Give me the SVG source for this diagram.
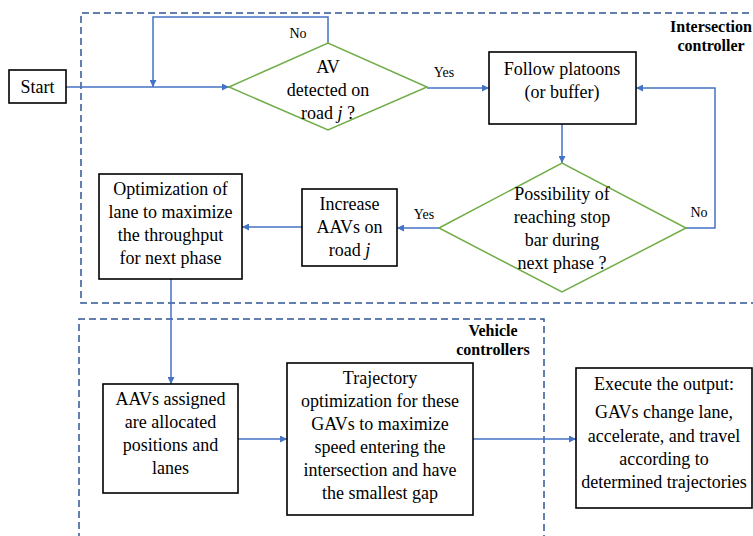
<svg xmlns="http://www.w3.org/2000/svg" width="753" height="536" viewBox="0 0 753 536" font-family="'Liberation Serif', 'Times New Roman', 'DejaVu Serif', serif">
<defs>
<marker id="ah" viewBox="0 0 10 10" refX="10" refY="5" markerWidth="7" markerHeight="7" markerUnits="userSpaceOnUse" orient="auto">
<path d="M0,0 L10,5 L0,10 z" fill="#4472C4"/>
</marker>
<style>
.box{fill:#fff;stroke:#000;stroke-width:1.6}
.dia{fill:#fff;stroke:#70AD47;stroke-width:1.5}
.frame{fill:none;stroke:#2F5597;stroke-width:1.5;stroke-dasharray:7 4}
.con{fill:none;stroke:#4472C4;stroke-width:1.5}
.arr{marker-end:url(#ah)}
text{font-family:'Liberation Serif','Times New Roman','DejaVu Serif',serif;font-size:18px;fill:#000;text-anchor:middle}
.lbl{font-size:14px}
.bold{font-size:16px;font-weight:bold}
</style>
</defs>
<rect width="753" height="536" fill="#fff"/>
<g id="frames">
<path class="frame" d="M760,13 H81 V303 H760"/>
<path class="frame" d="M79,540 V319 H544 V540"/>
<text class="bold" x="711" y="32">Intersection</text>
<text class="bold" x="711" y="51">controller</text>
<text class="bold" x="493" y="336">Vehicle</text>
<text class="bold" x="493" y="355">controllers</text>
</g>
<g id="connectors">
<path class="con arr" d="M66,87 H229"/>
<path class="con arr" d="M328,44 V17 H153 V87"/>
<path class="con arr" d="M427,88 H489"/>
<path class="con arr" d="M562,124 V163"/>
<path class="con arr" d="M686,228 H715 V88 H636"/>
<path class="con arr" d="M439,228 H397"/>
<path class="con arr" d="M302,227 H242"/>
<path class="con arr" d="M171,279 V384"/>
<path class="con arr" d="M238,439 H287"/>
<path class="con arr" d="M473,439 H576"/>
<text class="lbl" x="298" y="38">No</text>
<text class="lbl" x="444" y="77">Yes</text>
<text class="lbl" x="699" y="217">No</text>
<text class="lbl" x="424" y="219">Yes</text>
</g>
<g id="start">
<rect class="box" x="9" y="70" width="57" height="33"/>
<text x="37.5" y="93">Start</text>
</g>
<g id="av-detected">
<path class="dia" d="M229,87 L328,43 L427,87 L328,130 z"/>
<text x="328" y="73">AV</text>
<text x="328" y="96">detected on</text>
<text x="328" y="119">road <tspan font-style="italic">j</tspan> ?</text>
</g>
<g id="follow">
<rect class="box" x="489" y="52" width="147" height="72"/>
<text x="562" y="75">Follow platoons</text>
<text x="562" y="98">(or buffer)</text>
</g>
<g id="possibility">
<path class="dia" d="M439,228 L562,163 L686,228 L562,292 z"/>
<text x="562" y="200">Possibility of</text>
<text x="562" y="223">reaching stop</text>
<text x="562" y="246">bar during</text>
<text x="562" y="269">next phase ?</text>
</g>
<g id="increase">
<rect class="box" x="302" y="189" width="95" height="77"/>
<text x="349.5" y="210">Increase</text>
<text x="349.5" y="233">AAVs on</text>
<text x="349.5" y="256">road <tspan font-style="italic">j</tspan></text>
</g>
<g id="optimization">
<rect class="box" x="99" y="174" width="143" height="105"/>
<text x="170.5" y="195">Optimization of</text>
<text x="170.5" y="218">lane to maximize</text>
<text x="170.5" y="241">the throughput</text>
<text x="170.5" y="264">for next phase</text>
</g>
<g id="aavs">
<rect class="box" x="103" y="384" width="135" height="109"/>
<text x="170.5" y="405">AAVs assigned</text>
<text x="170.5" y="428">are allocated</text>
<text x="170.5" y="451">positions and</text>
<text x="170.5" y="474">lanes</text>
</g>
<g id="trajectory">
<rect class="box" x="287" y="363" width="186" height="152"/>
<text x="380" y="384">Trajectory</text>
<text x="380" y="407">optimization for these</text>
<text x="380" y="430">GAVs to maximize</text>
<text x="380" y="453">speed entering the</text>
<text x="380" y="476">intersection and have</text>
<text x="380" y="499">the smallest gap</text>
</g>
<g id="execute">
<rect class="box" x="576" y="368" width="176" height="140"/>
<text x="664" y="390">Execute the output:</text>
<text x="664" y="418">GAVs change lane,</text>
<text x="664" y="442">accelerate, and travel</text>
<text x="664" y="465">according to</text>
<text x="664" y="488">determined trajectories</text>
</g>
</svg>
